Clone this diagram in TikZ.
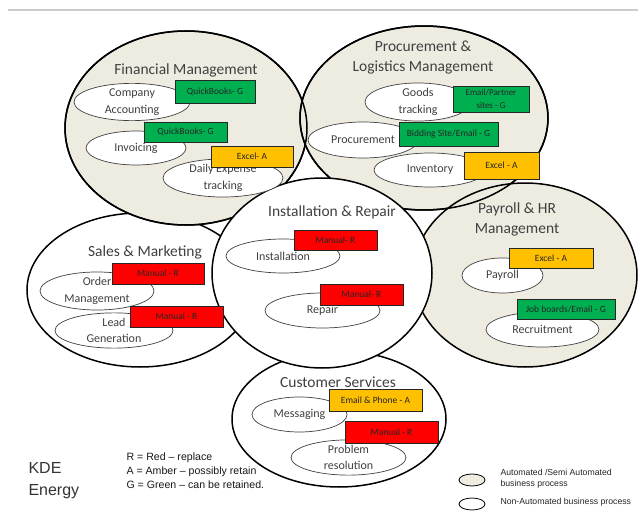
\documentclass[tikz,border=0pt]{standalone}
\usepackage{fontspec}
\setmainfont{Carlito}
\newfontfamily\arialf{Liberation Sans}
\usetikzlibrary{shapes.geometric}
\definecolor{beige}{HTML}{EEECE1}
\definecolor{gtxt}{HTML}{404040}
\definecolor{boxg}{HTML}{00B050}
\definecolor{boxa}{HTML}{FFC000}
\definecolor{boxr}{HTML}{FF0000}
\tikzset{
  outer/.style={ellipse, draw=black, line width=1.5pt, inner sep=0pt},
  autoarea/.style={outer, fill=beige},
  manarea/.style={outer, fill=white},
  rim/.style={draw=black, line width=1.5pt},
  proc/.style={ellipse, draw=gtxt, line width=0.7pt, fill=white, inner sep=0pt, text=gtxt,
    font=\fontsize{12}{16.5}\selectfont, align=center},
  tag/.style={rectangle, draw=black!85, line width=0.6pt, inner sep=0pt, text=black!85,
    font=\fontsize{9.5}{12}\selectfont, align=center},
  tagG/.style={tag, fill=boxg},
  tagA/.style={tag, fill=boxa},
  tagR/.style={tag, fill=boxr},
  title/.style={text=gtxt, font=\fontsize{15.5}{20}\selectfont, align=center},
  legtext/.style={font=\arialf\fontsize{8.7}{11}\selectfont, text=black!85, align=left, anchor=west},
}
\begin{document}
\begin{tikzpicture}[x=1pt,y=-1pt]
\useasboundingbox (0,0) rectangle (638,519);
\fill[white] (0,0) rectangle (638,519);
\draw[black!20, line width=1.2pt] (8,10) -- (638,10);

% outer areas
\node[manarea, minimum width=226pt, minimum height=154pt] (sal) at (140,290) {};
\node[autoarea, minimum width=242pt, minimum height=194pt] (fin) at (186,128) {};
\node[autoarea, minimum width=248pt, minimum height=184pt] (pro) at (424,118) {};
\node[autoarea, minimum width=224pt, minimum height=184pt] (pay) at (525,275) {};
\draw[rim] (fin.center) ellipse [x radius=121, y radius=97];
\draw[rim] (pro.center) ellipse [x radius=124, y radius=92];
\node[manarea, minimum width=214pt, minimum height=136pt] (cus) at (339,419) {};
\node[manarea, minimum width=220pt, minimum height=190pt] (ins) at (322,273) {};

% titles
\node[title] (tfin) at (186,70) {Financial Management};
\node[title] (tpro) at (423,58) {Procurement \&\\Logistics Management};
\node[title] (tsal) at (145,252) {Sales \& Marketing};
\node[title] (tins) at (332,212) {Installation \& Repair};
\node[title] (tpay) at (517,219) {Payroll \& HR\\Management};
\node[title] (tcus) at (338,382) {Customer Services};

% Financial
\node[proc, minimum width=116pt, minimum height=36pt] (pca) at (132,102) {Company\\Accounting};
\node[tagG, minimum width=80pt, minimum height=23pt] (gca) at (215,91.5) {QuickBooks- G};
\node[proc, minimum width=100pt, minimum height=34pt] (pinv) at (136,148) {Invoicing};
\node[tagG, minimum width=83pt, minimum height=20pt] (ginv) at (185.5,132) {QuickBooks- G};
\node[proc, minimum width=120pt, minimum height=34pt] (pexp) at (223,178) {Daily Expense\\tracking};
\node[tagA, minimum width=82pt, minimum height=21pt] (aexp) at (252,156.5) {Excel- A};

% Procurement
\node[proc, minimum width=106pt, minimum height=34pt] (pgt) at (418,102) {Goods\\tracking};
\node[tagG, minimum width=76pt, minimum height=26pt, font=\fontsize{9}{12.5}\selectfont] (ggt) at (491,99) {Email/Partner\\sites - G};
\node[proc, minimum width=110pt, minimum height=36pt] (ppr) at (363,140) {Procurement};
\node[tagG, minimum width=99pt, minimum height=24pt] (gpr) at (448.5,134) {Bidding Site/Email - G};
\node[proc, minimum width=112pt, minimum height=34pt] (pinvt) at (430,170) {Inventory};
\node[tagA, minimum width=75pt, minimum height=27pt] (ainvt) at (501.5,165.5) {Excel - A};

% Sales
\node[proc, minimum width=114pt, minimum height=38pt] (pom) at (97,291) {Order\\Management};
\node[tagR, minimum width=92pt, minimum height=21pt] (rom) at (158,273.5) {Manual - R};
\node[proc, minimum width=118pt, minimum height=35pt] (plg) at (114,330.5) {Lead\\Generation};
\node[tagR, minimum width=93pt, minimum height=21pt] (rlg) at (176.5,316.5) {Manual - R};

% Installation
\node[proc, minimum width=114pt, minimum height=34pt] (pin) at (283,256) {Installation};
\node[tagR, minimum width=83pt, minimum height=20pt] (rin) at (335.5,240) {Manual- R};
\node[proc, minimum width=115pt, minimum height=35pt] (prp) at (322.5,310.5) {Repair};
\node[tagR, minimum width=83pt, minimum height=21pt] (rrp) at (361.5,294.5) {Manual- R};

% Payroll
\node[proc, minimum width=81pt, minimum height=35pt] (ppy) at (502.5,275.5) {Payroll};
\node[tagA, minimum width=84pt, minimum height=20pt] (apy) at (551,258) {Excel - A};
\node[proc, minimum width=113pt, minimum height=35pt] (prc) at (542.5,329.5) {Recruitment};
\node[tagG, minimum width=98pt, minimum height=20pt] (grc) at (566,309) {Job boards/Email - G};

% Customer services
\node[proc, minimum width=95pt, minimum height=35pt] (pms) at (299.5,414.5) {Messaging};
\node[tagA, minimum width=93pt, minimum height=22pt] (ams) at (375.5,400) {Email \& Phone - A};
\node[proc, minimum width=115pt, minimum height=35pt] (ppb) at (348.5,457.5) {Problem\\resolution};
\node[tagR, minimum width=93pt, minimum height=22pt] (rpb) at (391.5,432) {Manual - R};

% legend
\node[font=\arialf\fontsize{16}{22}\selectfont, text=black!80, align=left, anchor=west] (kde) at (25,481) {KDE\\Energy};
\node[font=\arialf\fontsize{10.6}{14}\selectfont, text=black!90, align=left, anchor=west] (rag) at (123,471) {R = Red – replace\\A = Amber – possibly retain\\G = Green – can be retained.};
\node[ellipse, draw=black, line width=0.8pt, fill=beige, minimum width=26pt, minimum height=12pt, inner sep=0pt] (lauto) at (472,480) {};
\node[ellipse, draw=black, line width=0.8pt, fill=white, minimum width=26pt, minimum height=12pt, inner sep=0pt] (lman) at (472,504) {};
\node[legtext] (tauto) at (497,478.5) {Automated /Semi Automated\\business process};
\node[legtext] (tman) at (497,502) {Non-Automated business process};
\end{tikzpicture}
\end{document}
